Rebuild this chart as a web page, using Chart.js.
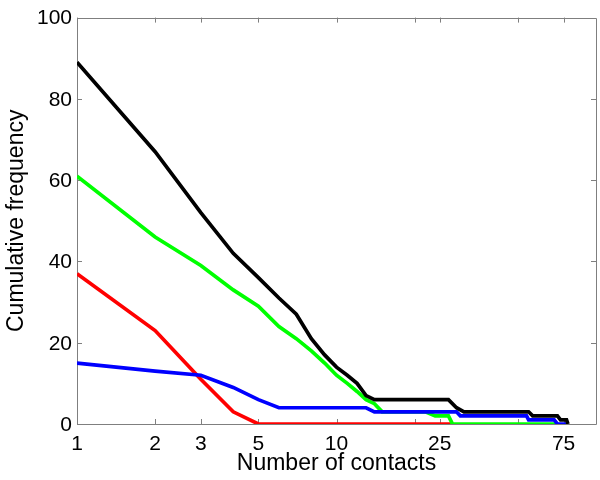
<!DOCTYPE html>
<html>
<head>
<meta charset="utf-8">
<script src="https://cdn.jsdelivr.net/npm/chart.js@4.4.0/dist/chart.umd.min.js"></script>
<style>
  html, body { margin: 0; padding: 0; background: #fff; }
  canvas { display: block; }
</style>
</head>
<body>
<canvas id="c" width="600" height="480"></canvas>
<script>
// ---- data ----
const xTickValues = [1, 2, 3, 5, 10, 20, 25, 50, 75];
const xTickLabels = [1, 2, 3, 5, 10, 25, 75];
const yTickValues = [0, 20, 40, 60, 80, 100];

const blackX = [1, 2, 3, 4, 5, 6, 7, 8, 9, 10, 11, 12, 13, 14, 27, 29, 31, 55, 57, 71, 73, 77, 78];
const blackY = [89, 67, 52, 42, 36, 31, 27, 21, 17, 14, 12, 10, 7, 6, 6, 4, 3, 3, 2, 2, 1, 1, 0];

const greenX = [1, 2, 3, 4, 5, 6, 7, 8, 9, 10, 11, 12, 13, 14, 15, 22, 24, 27, 28, 70];
const greenY = [61, 46, 39, 33, 29, 24, 21, 18, 15, 12, 10, 8, 6, 5, 3, 3, 2, 2, 0, 0];

const redX = [1, 2, 3, 4, 5, 28];
const redY = [37, 23, 11, 3, 0, 0];

const blueX = [1, 2, 3, 4, 5, 6, 13, 14, 29, 30, 54, 55, 69, 71, 78];
const blueY = [15, 13, 12, 9, 6, 4, 4, 3, 3, 2, 2, 1, 1, 0, 0];

const toPts = (xs, ys) => xs.map((x, i) => ({ x: x, y: ys[i] }));

const FONT = "'Liberation Sans', Arial, Helvetica, sans-serif";
const AXIS_COLOR = '#7f7f7f';

const boxTicks = {
  id: 'boxTicks',
  beforeDatasetsDraw(chart) {
    const { ctx, chartArea: a, scales } = chart;
    const len = 5;
    ctx.save();
    ctx.strokeStyle = AXIS_COLOR;
    ctx.lineWidth = 1;
    ctx.beginPath();
    ctx.rect(Math.round(a.left) + 0.5, Math.round(a.top) + 0.5,
             Math.round(a.right - a.left), Math.round(a.bottom - a.top));
    xTickValues.forEach(v => {
      const px = Math.round(scales.x.getPixelForValue(v)) + 0.5;
      ctx.moveTo(px, a.bottom); ctx.lineTo(px, a.bottom - len);
      ctx.moveTo(px, a.top); ctx.lineTo(px, a.top + len);
    });
    yTickValues.forEach(v => {
      const py = Math.round(scales.y.getPixelForValue(v)) + 0.5;
      ctx.moveTo(a.left, py); ctx.lineTo(a.left + len, py);
      ctx.moveTo(a.right, py); ctx.lineTo(a.right - len, py);
    });
    ctx.stroke();
    ctx.restore();
  }
};

const lw = 3.7;
new Chart(document.getElementById('c'), {
  type: 'line',
  data: {
    datasets: [
      { label: 'total', data: toPts(blackX, blackY), borderColor: '#000000', borderWidth: lw },
      { label: 'blue', data: toPts(blueX, blueY), borderColor: '#0000ff', borderWidth: lw },
      { label: 'green', data: toPts(greenX, greenY), borderColor: '#00ff00', borderWidth: lw },
      { label: 'red', data: toPts(redX, redY), borderColor: '#ff0000', borderWidth: lw }
    ]
  },
  options: {
    responsive: false,
    animation: false,
    events: [],
    layout: { padding: { left: 0, top: 16, right: 4, bottom: 0 } },
    elements: {
      point: { radius: 0 },
      line: { tension: 0, fill: false, borderCapStyle: 'butt', borderJoinStyle: 'miter' }
    },
    plugins: { legend: { display: false }, tooltip: { enabled: false } },
    scales: {
      x: {
        type: 'logarithmic',
        min: 1, max: 100,
        afterBuildTicks(scale) { scale.ticks = xTickValues.map(v => ({ value: v })); },
        afterFit(scale) { scale.height = 56; },
        grid: { display: false, drawTicks: false },
        border: { display: false },
        ticks: {
          autoSkip: false, maxRotation: 0, minRotation: 0, padding: 8,
          color: '#000', font: { family: FONT, size: 21 },
          callback: (v) => xTickLabels.includes(v) ? String(v) : ''
        },
        title: {
          display: true, text: 'Number of contacts', color: '#000',
          font: { family: FONT, size: 23 }, padding: { top: 0, bottom: 2.5 }
        }
      },
      y: {
        min: 0, max: 100,
        afterBuildTicks(scale) { scale.ticks = yTickValues.map(v => ({ value: v })); },
        afterFit(scale) { scale.width = 77; },
        grid: { display: false, drawTicks: false },
        border: { display: false },
        ticks: {
          padding: 5, labelOffset: 1, color: '#000', font: { family: FONT, size: 21 }
        },
        title: {
          display: true, text: 'Cumulative frequency', color: '#000',
          font: { family: FONT, size: 23 }, padding: { top: 3, bottom: 0 }
        }
      }
    }
  },
  plugins: [boxTicks]
});
</script>
</body>
</html>
